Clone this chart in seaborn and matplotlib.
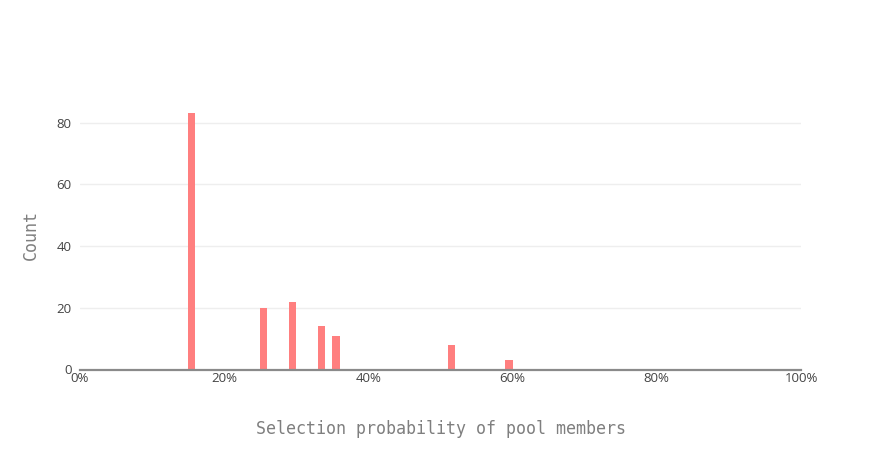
import numpy as np
import matplotlib
matplotlib.use("Agg")
import matplotlib.pyplot as plt
import seaborn as sns
from matplotlib.ticker import FuncFormatter

# bin left edges (fraction) and counts
bin_starts = [0.15, 0.25, 0.29, 0.33, 0.35, 0.51, 0.59]
counts = [83, 20, 22, 14, 11, 8, 3]
x_ticks = [0, 0.2, 0.4, 0.6, 0.8, 1.0]
y_ticks = [0, 20, 40, 60, 80]

centers = [b + 0.005 for b in bin_starts]

sns.set_style("white")
plt.rcParams['font.family'] = ['Open Sans', 'DejaVu Sans']

fig = plt.figure(figsize=(8.81, 4.5), dpi=100)
ax = fig.add_axes([80 / 881, 80.5 / 450, 721 / 881, 269.5 / 450])

sns.histplot(x=centers, weights=counts, binwidth=0.01, binrange=(0, 1),
             color="#ff7f7f", alpha=1, edgecolor="none", linewidth=0, ax=ax)

ax.set_xlim(0, 1)
ax.set_ylim(0, 87.3)
ax.set_xticks(x_ticks)
ax.set_yticks(y_ticks)
ax.xaxis.set_major_formatter(FuncFormatter(lambda v, p: f"{v * 100:.0f}%"))
ax.grid(axis="y", color="#eeeeee", linewidth=1)
ax.set_axisbelow(True)
for s in ["top", "right", "left"]:
    ax.spines[s].set_visible(False)
ax.spines["bottom"].set_color("#8a8a8a")
ax.spines["bottom"].set_linewidth(1.6)
ax.tick_params(axis="both", length=0, labelsize=9.5, labelcolor="#444444")
ax.tick_params(axis="x", pad=2)
ax.tick_params(axis="y", pad=6)

ax.set_xlabel("Selection probability of pool members", family="DejaVu Sans Mono",
              fontsize=12, color="#7f7f7f", labelpad=25)
ax.set_ylabel("Count", family="DejaVu Sans Mono", fontsize=12,
              color="#7f7f7f", labelpad=12)

fig.savefig("out.png", dpi=100)
